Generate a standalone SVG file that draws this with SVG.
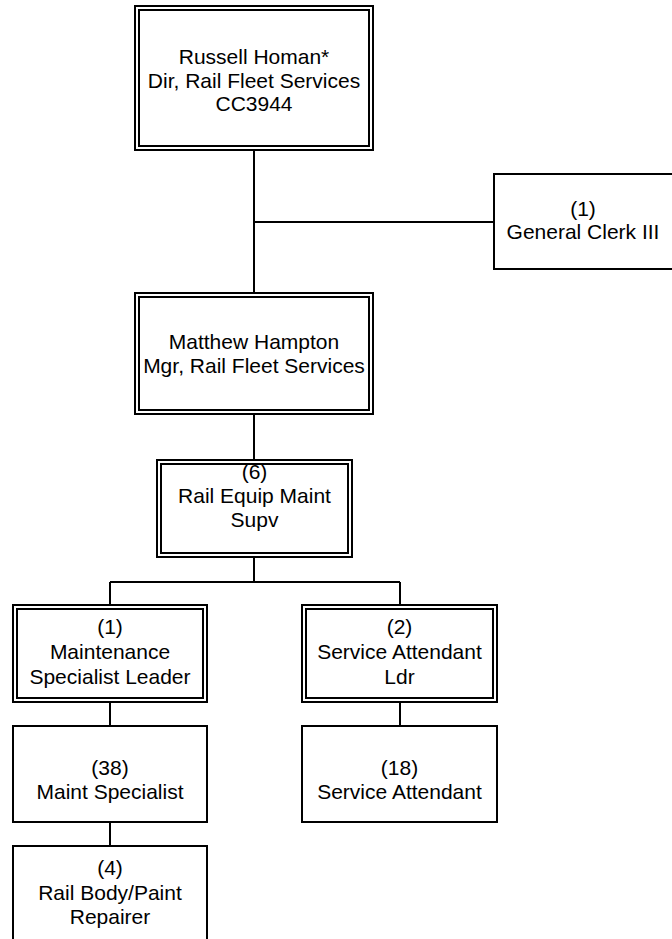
<svg xmlns="http://www.w3.org/2000/svg" width="672" height="939" viewBox="0 0 672 939">
<style>
rect{fill:none;stroke:#000;stroke-width:2}
.bg{fill:#fff;stroke:none}
text{font-family:"Liberation Sans",Arial,sans-serif;font-size:21px;fill:#000;text-anchor:middle}
.conn line{stroke:#000;stroke-width:2}
</style>
<rect class="bg" x="0" y="0" width="672" height="939"/>
<g class="conn">
<line x1="254" y1="151" x2="254" y2="293"/>
<line x1="254" y1="222" x2="494" y2="222"/>
<line x1="254" y1="414" x2="254" y2="460"/>
<line x1="254" y1="557" x2="254" y2="582"/>
<line x1="110" y1="582" x2="400" y2="582"/>
<line x1="110" y1="582" x2="110" y2="605"/>
<line x1="400" y1="582" x2="400" y2="605"/>
<line x1="110" y1="702" x2="110" y2="726"/>
<line x1="400" y1="702" x2="400" y2="726"/>
<line x1="110" y1="822" x2="110" y2="846"/>
</g>
<g id="russell">
<rect x="135" y="6" width="238" height="144"/>
<rect x="139" y="10" width="230" height="136"/>
<text x="254" y="63.5">Russell Homan*</text>
<text x="254" y="87.5">Dir, Rail Fleet Services</text>
<text x="254" y="111">CC3944</text>
</g>
<g id="clerk">
<rect x="494" y="174" width="200" height="95"/>
<text x="583" y="216">(1)</text>
<text x="583" y="239">General Clerk III</text>
</g>
<g id="matthew">
<rect x="135" y="293" width="238" height="121"/>
<rect x="139" y="297" width="230" height="113"/>
<text x="254" y="348.5">Matthew Hampton</text>
<text x="254" y="372.5">Mgr, Rail Fleet Services</text>
</g>
<g id="supv">
<rect x="157" y="460" width="195" height="97"/>
<rect x="161" y="464" width="187" height="89"/>
<text x="254.5" y="479">(6)</text>
<text x="254.5" y="503">Rail Equip Maint</text>
<text x="254.5" y="527">Supv</text>
</g>
<g id="msl">
<rect x="13" y="605" width="194" height="97"/>
<rect x="17" y="609" width="186" height="89"/>
<text x="110" y="634">(1)</text>
<text x="110" y="659">Maintenance</text>
<text x="110" y="684">Specialist Leader</text>
</g>
<g id="sal">
<rect x="302" y="605" width="195" height="97"/>
<rect x="306" y="609" width="187" height="89"/>
<text x="399.5" y="634">(2)</text>
<text x="399.5" y="659">Service Attendant</text>
<text x="399.5" y="684">Ldr</text>
</g>
<g id="ms">
<rect x="13" y="726" width="194" height="96"/>
<text x="110" y="775">(38)</text>
<text x="110" y="799">Maint Specialist</text>
</g>
<g id="sa">
<rect x="302" y="726" width="195" height="96"/>
<text x="399.5" y="775">(18)</text>
<text x="399.5" y="799">Service Attendant</text>
</g>
<g id="rbp">
<rect x="13" y="846" width="194" height="100"/>
<text x="110" y="875">(4)</text>
<text x="110" y="899.5">Rail Body/Paint</text>
<text x="110" y="924">Repairer</text>
</g>
</svg>
